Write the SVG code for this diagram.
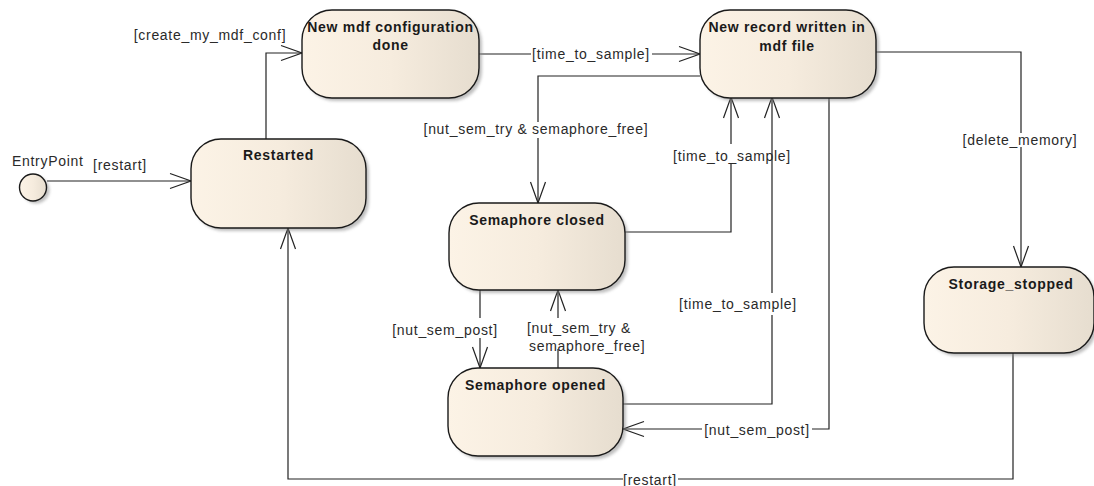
<svg xmlns="http://www.w3.org/2000/svg" width="1094" height="486" viewBox="0 0 1094 486">
  <defs>
    <linearGradient id="stateFill" x1="0" y1="0" x2="1" y2="0">
      <stop offset="0" stop-color="#FCF3E6"/>
      <stop offset="0.5" stop-color="#F6ECDE"/>
      <stop offset="1" stop-color="#E6DDCF"/>
    </linearGradient>
    <filter id="soft" x="-10%" y="-10%" width="130%" height="130%">
      <feGaussianBlur stdDeviation="1.5"/>
    </filter>
    <marker id="open" viewBox="-23 -9 25 18" refX="0" refY="0" markerWidth="25" markerHeight="18" markerUnits="userSpaceOnUse" orient="auto">
      <path d="M-21,-7.5 L0,0 L-21,7.5" fill="none" stroke="#222" stroke-width="1.2"/>
    </marker>
    <style>
      .state { fill: url(#stateFill); stroke: #1a1a1a; stroke-width: 1.4; }
      .shadow { fill: #8a8a8a; opacity: 0.55; filter: url(#soft); }
      .title { font-family: "Liberation Sans", Arial, sans-serif; font-size: 14px; font-weight: bold; letter-spacing: 0.7px; fill: #1a1a1a; text-anchor: middle; }
      .label { font-family: "Liberation Sans", Arial, sans-serif; font-size: 14px; letter-spacing: 0.7px; fill: #2a2a2a; }
      .edge { fill: none; stroke: #222; stroke-width: 1.2; marker-end: url(#open); }
    </style>
  </defs>

  <rect width="1094" height="486" fill="#ffffff"/>

  <!-- transitions -->
  <g id="connectors">
    <path class="edge" d="M47,181 H191"/>
    <path class="edge" d="M266,139 V53 H302"/>
    <path class="edge" d="M479,54 H531 M652,54 H700"/>
    <path class="edge" d="M700,76 H538 V122 M538,138 V203"/>
    <path class="edge" d="M625,232 H731 V163 M731,144 V97"/>
    <path class="edge" d="M623,404 H772 V315 M772,293 V97"/>
    <path class="edge" d="M829,98 V429 H812 M702,429 H623"/>
    <path class="edge" d="M876,52 H1021 V133 M1021,147 V267"/>
    <path class="edge" d="M1013,353 V479 H678 M623,479 H288 V228"/>
    <path class="edge" d="M480,290 V318 M480,338 V368"/>
    <path class="edge" d="M558,368 V349 M558,318 V290"/>

    <text class="label" x="120" y="170" text-anchor="middle">[restart]</text>
    <text class="label" x="210" y="40" text-anchor="middle">[create_my_mdf_conf]</text>
    <text class="label" x="591" y="59" text-anchor="middle">[time_to_sample]</text>
    <text class="label" x="536" y="134" text-anchor="middle">[nut_sem_try &amp; semaphore_free]</text>
    <text class="label" x="732" y="161" text-anchor="middle">[time_to_sample]</text>
    <text class="label" x="738" y="309" text-anchor="middle">[time_to_sample]</text>
    <text class="label" x="757" y="435" text-anchor="middle">[nut_sem_post]</text>
    <text class="label" x="1020" y="145" text-anchor="middle">[delete_memory]</text>
    <text class="label" x="650" y="485" text-anchor="middle">[restart]</text>
    <text class="label" x="445" y="335" text-anchor="middle">[nut_sem_post]</text>
    <text class="label" x="527" y="333">[nut_sem_try &amp;</text>
    <text class="label" x="529" y="351">semaphore_free]</text>
  </g>

  <!-- initial pseudo-state -->
  <g id="entry-point">
    <circle cx="36" cy="190" r="13.5" class="shadow"/>
    <circle cx="33" cy="187.5" r="13.5" class="state"/>
    <text class="label" x="12" y="166">EntryPoint</text>
  </g>

  <g id="restarted">
    <rect x="194" y="142" width="175" height="89" rx="30" class="shadow"/>
    <rect x="191" y="139" width="175" height="89" rx="30" class="state"/>
    <text class="title" x="278.5" y="160">Restarted</text>
  </g>

  <g id="new-mdf-configuration-done">
    <rect x="305" y="13" width="177" height="88" rx="30" class="shadow"/>
    <rect x="302" y="10" width="177" height="88" rx="30" class="state"/>
    <text class="title" x="390.5" y="32">New mdf configuration</text>
    <text class="title" x="390.5" y="50">done</text>
  </g>

  <g id="new-record-written">
    <rect x="703" y="13" width="176" height="88" rx="30" class="shadow"/>
    <rect x="700" y="10" width="176" height="88" rx="30" class="state"/>
    <text class="title" x="787" y="32">New record written in</text>
    <text class="title" x="787" y="51">mdf file</text>
  </g>

  <g id="semaphore-closed">
    <rect x="452" y="206" width="176" height="87" rx="30" class="shadow"/>
    <rect x="449" y="203" width="176" height="87" rx="30" class="state"/>
    <text class="title" x="537" y="225">Semaphore closed</text>
  </g>

  <g id="semaphore-opened">
    <rect x="451" y="371" width="175" height="88" rx="30" class="shadow"/>
    <rect x="448" y="368" width="175" height="88" rx="30" class="state"/>
    <text class="title" x="535.5" y="390">Semaphore opened</text>
  </g>

  <g id="storage-stopped">
    <rect x="927" y="270" width="170" height="86" rx="30" class="shadow"/>
    <rect x="924" y="267" width="170" height="86" rx="30" class="state"/>
    <text class="title" x="1011" y="289">Storage_stopped</text>
  </g>
</svg>
